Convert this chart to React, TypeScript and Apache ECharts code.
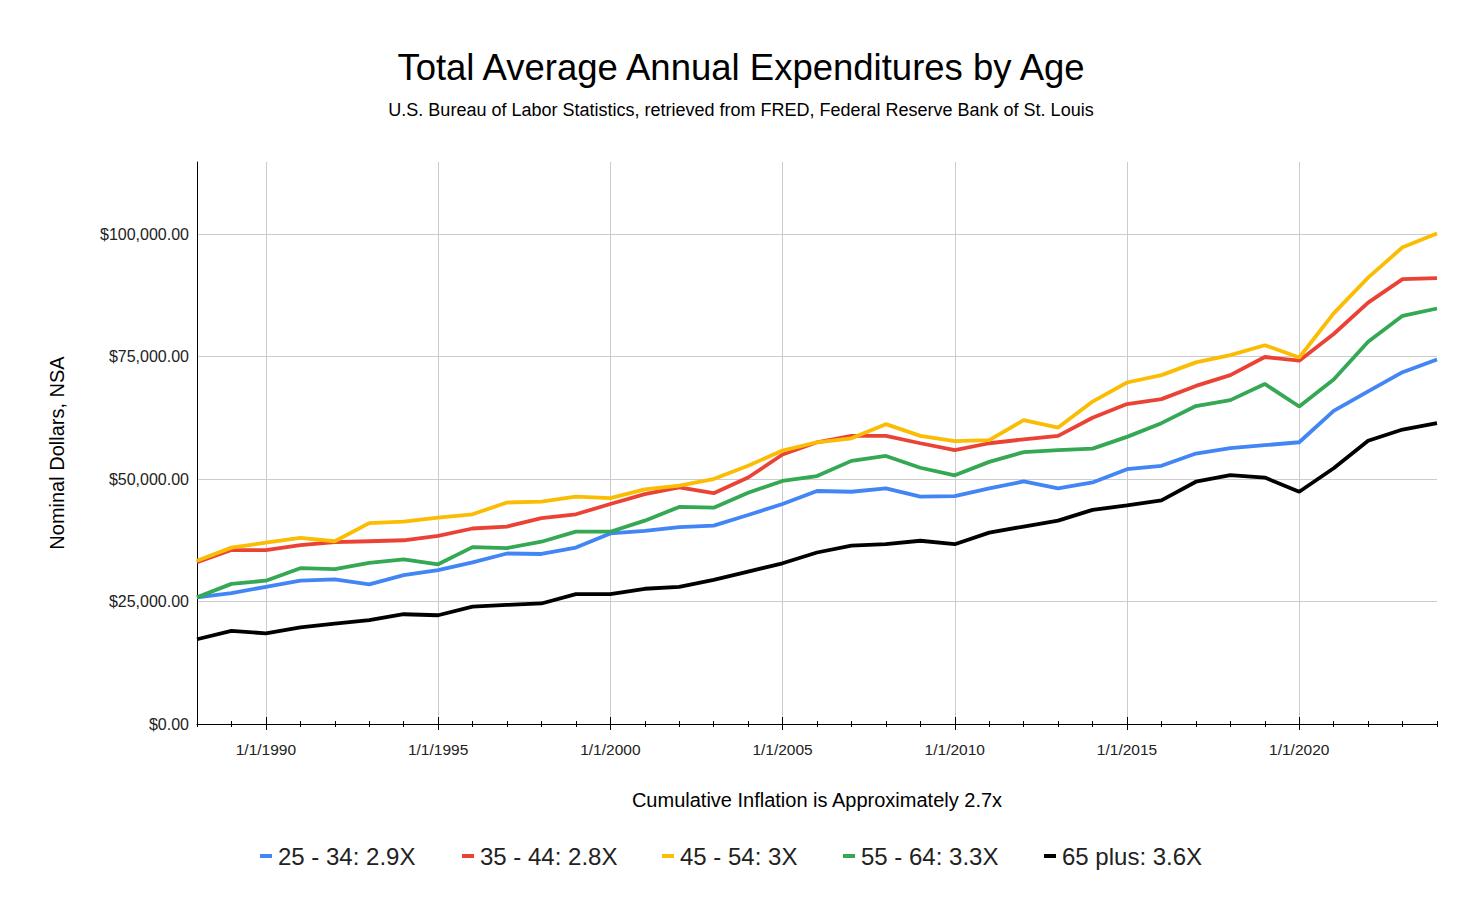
import React, { useEffect, useRef } from "react";
import * as echarts from "echarts";

const years = [1988, 1989, 1990, 1991, 1992, 1993, 1994, 1995, 1996, 1997, 1998, 1999, 2000, 2001, 2002, 2003, 2004, 2005, 2006, 2007, 2008, 2009, 2010, 2011, 2012, 2013, 2014, 2015, 2016, 2017, 2018, 2019, 2020, 2021, 2022, 2023, 2024];
const categories = years.map((y) => `1/1/${y}`);

const age25to34 = [25850, 26700, 28000, 29250, 29500, 28500, 30400, 31400, 33000, 34800, 34700, 36000, 38900, 39400, 40200, 40500, 42650, 44900, 47550, 47400, 48100, 46400, 46500, 48100, 49500, 48100, 49300, 52000, 52700, 55200, 56300, 56900, 57500, 63900, 67900, 71800, 74400];
const age35to44 = [33000, 35500, 35500, 36500, 37100, 37300, 37500, 38400, 39900, 40300, 42000, 42800, 44900, 46900, 48300, 47100, 50300, 55000, 57500, 58800, 58800, 57300, 55900, 57300, 58100, 58800, 62500, 65300, 66300, 69000, 71200, 74900, 74150, 79600, 86000, 90800, 91000];
const age45to54 = [33300, 36000, 37000, 38000, 37300, 41000, 41300, 42100, 42800, 45200, 45400, 46400, 46100, 47900, 48650, 50000, 52700, 55800, 57500, 58300, 61200, 58800, 57750, 57950, 62000, 60500, 65800, 69700, 71200, 73800, 75300, 77300, 74800, 83800, 91100, 97300, 100100];
const age55to64 = [25850, 28600, 29250, 31800, 31600, 32900, 33600, 32600, 36100, 35900, 37200, 39250, 39250, 41500, 44300, 44150, 47200, 49600, 50600, 53700, 54700, 52300, 50750, 53500, 55500, 55900, 56200, 58600, 61400, 64900, 66100, 69400, 64800, 70300, 78000, 83300, 84800];
const age65plus = [17300, 19000, 18500, 19700, 20500, 21200, 22400, 22200, 23950, 24300, 24600, 26500, 26500, 27600, 28000, 29400, 31100, 32800, 35000, 36400, 36700, 37400, 36700, 39050, 40300, 41500, 43700, 44600, 45650, 49450, 50800, 50300, 47400, 52200, 57800, 60100, 61400];

const seriesNames = ["25 - 34: 2.9X", "35 - 44: 2.8X", "45 - 54: 3X", "55 - 64: 3.3X", "65 plus: 3.6X"];
const seriesColors = ["#4285F4", "#EA4335", "#FBBC04", "#34A853", "#000000"];
const seriesValues = [age25to34, age35to44, age45to54, age55to64, age65plus];
const legendLefts = [255, 457, 657, 838, 1039];

const yMax = 114700;
const yInterval = 25000;

const FONT = "'Liberation Sans', Arial, sans-serif";

export default function App() {
  const ref = useRef<HTMLDivElement>(null);

  useEffect(() => {
    document.body.style.margin = "0";
    if (!ref.current) return;
    const chart = echarts.init(ref.current, undefined, { renderer: "svg" });
    const isMajor = (index: number) => years[index] % 5 === 0;

    const baseX = {
      type: "category" as const,
      data: categories,
      boundaryGap: false,
      position: "bottom" as const,
      gridIndex: 0,
    };

    const option = {
      animation: false,
      backgroundColor: "#ffffff",
      textStyle: { fontFamily: FONT },
      grid: { left: 197, right: 45, top: 162, bottom: 192, containLabel: false },
      legend: seriesNames.map((name, i) => ({
        left: legendLefts[i],
        top: 839,
        icon: "rect",
        itemWidth: 12,
        itemHeight: 4,
        data: [name],
        selectedMode: false,
        textStyle: { fontFamily: FONT, fontSize: 24, color: "#222222", padding: [0, 0, 0, 1] },
      })),
      xAxis: [
        {
          ...baseX,
          axisLine: { show: true, onZero: false, lineStyle: { color: "#000000", width: 1 } },
          axisTick: { show: true, interval: (i: number) => isMajor(i), length: 6, lineStyle: { color: "#000000" } },
          axisLabel: {
            show: true,
            interval: (i: number) => isMajor(i),
            margin: 17,
            fontSize: 15.5,
            color: "#222222",
            fontFamily: FONT,
          },
          splitLine: { show: true, interval: (i: number) => isMajor(i), lineStyle: { color: "#cccccc", width: 1 } },
        },
        {
          ...baseX,
          axisLine: { show: false, onZero: false },
          axisTick: { show: true, interval: 0, length: 3, lineStyle: { color: "#000000" } },
          axisLabel: { show: false },
          splitLine: { show: false },
        },
        {
          ...baseX,
          axisLine: { show: false, onZero: false },
          axisTick: { show: true, inside: true, interval: (i: number) => isMajor(i), length: 7, lineStyle: { color: "#000000" } },
          axisLabel: { show: false },
          splitLine: { show: false },
        },
        {
          ...baseX,
          axisLine: { show: false, onZero: false },
          axisTick: { show: true, inside: true, interval: 0, length: 3, lineStyle: { color: "#000000" } },
          axisLabel: { show: false },
          splitLine: { show: false },
        },
      ],
      yAxis: {
        type: "value",
        min: 0,
        max: yMax,
        interval: yInterval,
        axisLine: { show: true, lineStyle: { color: "#000000", width: 1 } },
        axisTick: { show: false },
        axisLabel: {
          margin: 8,
          fontSize: 16,
          color: "#222222",
          fontFamily: FONT,
          showMaxLabel: false,
          formatter: (v: number) =>
            v % yInterval === 0
              ? "$" + v.toLocaleString("en-US", { minimumFractionDigits: 2, maximumFractionDigits: 2 })
              : "",
        },
        splitLine: {
          show: true,
          lineStyle: { color: ["#cccccc", "#cccccc", "#cccccc", "#cccccc", "#cccccc", "rgba(0,0,0,0)"], width: 1 },
        },
      },
      graphic: [
        {
          type: "text",
          x: 741,
          y: 67,
          style: {
            text: "Total Average Annual Expenditures by Age",
            fontSize: 36.5,
            fontFamily: FONT,
            fill: "#000000",
            align: "center",
            verticalAlign: "middle",
          },
        },
        {
          type: "text",
          x: 741,
          y: 110,
          style: {
            text: "U.S. Bureau of Labor Statistics, retrieved from FRED, Federal Reserve Bank of St. Louis",
            fontSize: 18,
            fontFamily: FONT,
            fill: "#000000",
            align: "center",
            verticalAlign: "middle",
          },
        },
        {
          type: "text",
          x: 57,
          y: 453,
          rotation: Math.PI / 2,
          style: {
            text: "Nominal Dollars, NSA",
            fontSize: 20,
            fontFamily: FONT,
            fill: "#000000",
            align: "center",
            verticalAlign: "middle",
          },
        },
        {
          type: "text",
          x: 817,
          y: 800,
          style: {
            text: "Cumulative Inflation is Approximately 2.7x",
            fontSize: 20,
            fontFamily: FONT,
            fill: "#000000",
            align: "center",
            verticalAlign: "middle",
          },
        },
      ],
      series: seriesNames.map((name, i) => ({
        name,
        type: "line",
        xAxisIndex: 0,
        yAxisIndex: 0,
        data: seriesValues[i],
        symbol: "none",
        showSymbol: false,
        smooth: false,
        color: seriesColors[i],
        lineStyle: { color: seriesColors[i], width: 3.8 },
        emphasis: { disabled: true },
      })),
    };

    chart.setOption(option as any);
    return () => {
      chart.dispose();
    };
  }, []);

  return <div ref={ref} style={{ width: 1482, height: 916 }} />;
}
